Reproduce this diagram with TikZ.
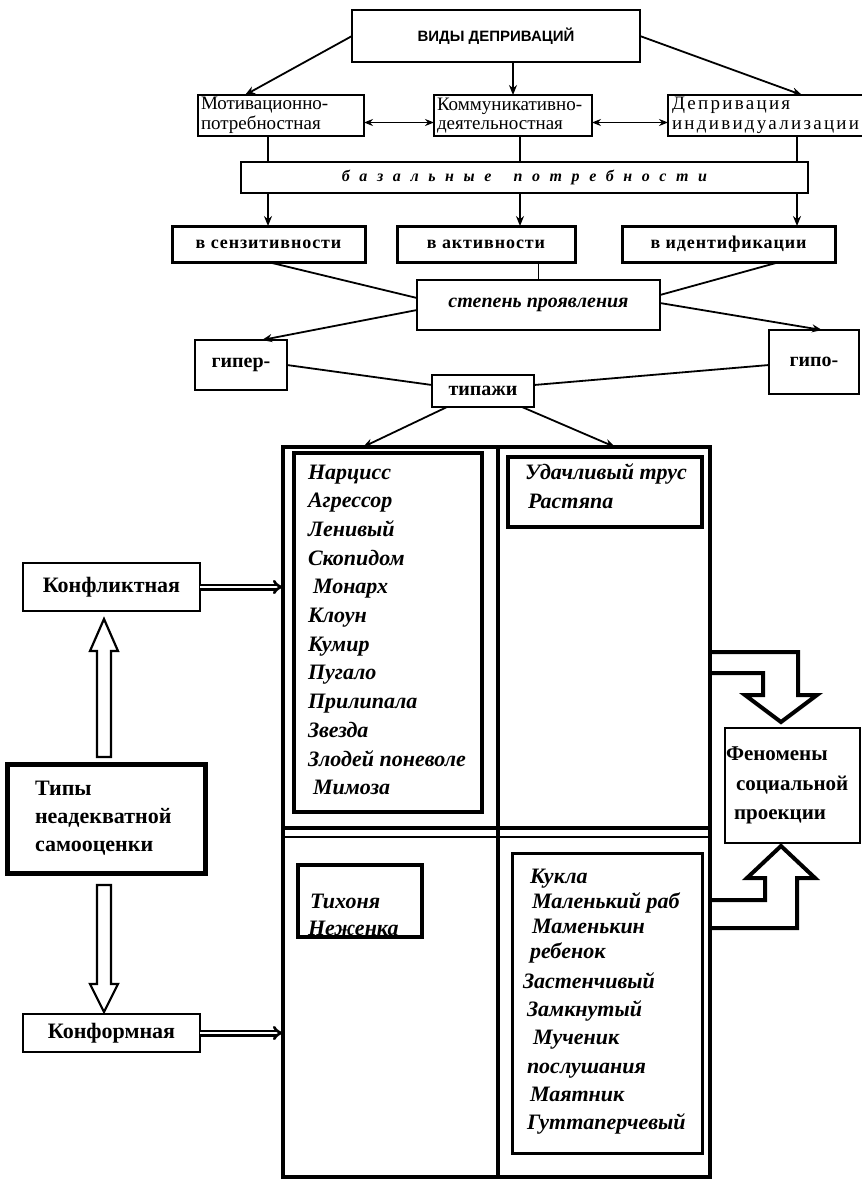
\documentclass[tikz,border=0pt]{standalone}
\usepackage{fontspec}
\setmainfont{Liberation Serif}
\newfontfamily\hsans{Liberation Sans}
\usetikzlibrary{arrows.meta,calc}
\newcommand\szTop{\hsans\bfseries\fontsize{15}{17}\selectfont}
\newcommand\szRow{\fontsize{19}{19.5}\selectfont}
\newcommand\szBas{\bfseries\itshape\fontsize{16}{18}\selectfont\addfontfeatures{LetterSpace=60}}
\newcommand\szNeed{\bfseries\fontsize{18}{18}\selectfont\addfontfeatures{LetterSpace=5}}
\newcommand\szDeg{\bfseries\itshape\fontsize{20}{22}\selectfont}
\newcommand\szSm{\bfseries\fontsize{20}{22}\selectfont}
\newcommand\szItem{\bfseries\itshape\fontsize{22}{22}\selectfont}
\newcommand\szSide{\bfseries\fontsize{22}{28}\selectfont}
\newcommand\szFen{\bfseries\fontsize{21}{29.5}\selectfont}
\begin{document}
\begin{tikzpicture}[x=1pt,y=-1pt,
  every node/.style={inner sep=0pt, outer sep=0pt},
  bx/.style={draw, line width=2pt, anchor=north west},
  ln/.style={line width=1.8pt},
  ar/.style={line width=1.8pt, -{Stealth[length=10pt,width=8pt]}},
  dar/.style={line width=1.8pt, {Stealth[length=9pt,width=7pt]}-{Stealth[length=9pt,width=7pt]}},
  itm/.style={anchor=base west, font=\szItem},
  hol/.style={draw, line width=2.2pt, fill=white, line join=miter},
  blkar/.style={draw, line width=4pt, line join=miter},
  imp/.style={double, double distance=1.8pt, line width=2.6pt, -{Implies}},
]
\useasboundingbox[fill=white] (0,0) rectangle (862,1179);

% ---------- top part ----------
\node[bx, line width=2.5pt, minimum width=288, minimum height=52, font=\szTop] (top) at (352,10) {ВИДЫ ДЕПРИВАЦИЙ};
\node[bx, minimum width=166, minimum height=41, text width=160, align=left, font=\szRow] (mot) at (198,95) {Мотивационно-\\потребностная};
\node[bx, minimum width=158, minimum height=41, text width=152, align=left, font=\szRow] (kom) at (434,95) {Коммуникативно-\\деятельностная};
\node[bx, minimum width=214, minimum height=41, text width=206, align=left, font={\szRow\addfontfeatures{LetterSpace=12}}] (dep) at (668,95) {Депривация\\индивидуализации};

\draw[ar] (top.west) -- ([xshift=-36]mot.north);
\draw[ar] (top.south -| kom.north) -- (kom.north);
\draw[ar] (top.east) -- ([xshift=27]dep.north);
\draw[dar] ([yshift=-7]mot.east) -- ([yshift=-7]kom.west);
\draw[dar] ([yshift=-7]kom.east) -- ([yshift=-7]dep.west);

\node[bx, minimum width=567, minimum height=31, font=\szBas] (bas) at (241,162) {базальные\hspace{22pt}потребности};

\coordinate (c1) at (268,0);
\coordinate (c2) at (520,0);
\coordinate (c3) at (797,0);
\draw[ln] (mot.south -| c1) -- (bas.north -| c1);
\draw[ln] (kom.south -| c2) -- (bas.north -| c2);
\draw[ln] (dep.south -| c3) -- (bas.north -| c3);

\node[bx, line width=3pt, minimum width=193, minimum height=36, font=\szNeed] (sen) at (172,226) {в сензитивности};
\node[bx, line width=3pt, minimum width=178, minimum height=36, font=\szNeed] (akt) at (397,226) {в активности};
\node[bx, line width=3pt, minimum width=213, minimum height=36, font=\szNeed] (ide) at (622,226) {в идентификации};

\draw[ar] (bas.south -| c1) -- (sen.north -| c1);
\draw[ar] (bas.south -| c2) -- (akt.north -| c2);
\draw[ar] (bas.south -| c3) -- (ide.north -| c3);

\node[bx, minimum width=243, minimum height=50, font=\szDeg] (stp) at (417,280) {степень проявления};

\draw[ln] (sen.south -| c1) -- ([yshift=7]stp.west);
\draw[ln] (stp.north |- akt.south) -- (stp.north);
\draw[ln] ([xshift=51]ide.south) -- ([yshift=10]stp.east);

\node[bx, line width=2.5pt, minimum width=92, minimum height=50, font=\szSm] (giper) at (195,340) {гипер-};
\node[bx, minimum width=90, minimum height=64, font=\szSm] (gipo) at (769,330) {гипо-};
\node[bx, line width=2.5pt, minimum width=102, minimum height=32, font=\szSm] (tip) at (432,375) {типажи};

\draw[ar] ([yshift=-5]stp.west) -- ([xshift=21]giper.north);
\draw[ar] ([yshift=2]stp.east) -- ([xshift=8]gipo.north);
\draw[ln] (giper.east) -- ([yshift=6]tip.west);
\draw[ln] ([yshift=-3]gipo.west) -- ([yshift=6]tip.east);

% ---------- grid ----------
\node[draw, line width=4pt, minimum width=427, minimum height=730, anchor=north west] (grid) at (283,447) {};
\coordinate (g1) at (363,447);
\coordinate (g2) at (615,447);
\draw[ar] ([xshift=-36]tip.south) -- (g1);
\draw[ar] ([xshift=39]tip.south) -- (g2);

\coordinate (dv) at (498,0);
\coordinate (dh1) at (0,828);
\coordinate (dh2) at (0,837);
\draw[line width=4pt] (grid.north -| dv) -- (grid.south -| dv);
\draw[line width=3.5pt] (grid.west |- dh1) -- (grid.east |- dh1);
\draw[line width=1.5pt] (grid.west |- dh2) -- (grid.east |- dh2);

% upper-left list
\foreach \t/\dx [count=\i from 0] in {Нарцисс/0, Агрессор/0, Ленивый/0, Скопидом/0, Монарх/5, Клоун/0, Кумир/0, Пугало/0, Прилипала/0, Звезда/0, Злодей поневоле/0, Мимоза/5}
  \node[itm] (u\i) at ({308+\dx},{479+28.7*\i}) {\t};
\node[bx, line width=3.5pt, minimum width=188, minimum height=359] (ul) at (294,453) {};

% upper-right list
\node[itm] (r1) at (525,479) {Удачливый трус};
\node[itm] (r2) at (528,508) {Растяпа};
\node[bx, line width=3.5pt, minimum width=194, minimum height=70] (ur) at (508,457) {};

% lower-left list
\node[itm] (t1) at (310,908) {Тихоня};
\node[itm] (t2) at (308,935) {Неженка};
\node[bx, line width=3.5pt, minimum width=124, minimum height=72] (ll) at (298,865) {};

% lower-right list
\foreach \t/\xx/\yy [count=\i] in {Кукла/530/883, Маленький раб/532/908, Маменькин/532/933, ребенок/530/958, Застенчивый/523/988, Замкнутый/527/1016, Мученик/533/1044, послушания/527/1073, Маятник/530/1101, Гуттаперчевый/527/1129}
  \node[itm] (w\i) at (\xx,\yy) {\t};
\node[bx, line width=3pt, minimum width=190, minimum height=300] (lr) at (512,853) {};

% ---------- right side ----------
\node[bx, minimum width=135, minimum height=115, text width=133, align=left, font=\szFen] (fen) at (725,728) {Феномены\\\hspace*{10pt}социальной\\\hspace*{8pt}проекции};
\coordinate (ba) at (781,0);
\coordinate (q1) at (0,652);
\coordinate (q2) at (0,673);
\coordinate (q3) at (0,900);
\coordinate (q4) at (0,928);
\draw[blkar] (grid.east |- q1) -- ($(fen.north -| ba)+(17,-76)$) -- ($(fen.north -| ba)+(17,-33)$) -- ($(fen.north -| ba)+(36,-33)$) -- ($(fen.north -| ba)+(0,-6)$) -- ($(fen.north -| ba)+(-36,-33)$) -- ($(fen.north -| ba)+(-18,-33)$) -- ($(fen.north -| ba)+(-18,-55)$) -- (grid.east |- q2);
\draw[blkar] (grid.east |- q4) -- ($(fen.south -| ba)+(16,85)$) -- ($(fen.south -| ba)+(16,35)$) -- ($(fen.south -| ba)+(34,35)$) -- ($(fen.south -| ba)+(0,3)$) -- ($(fen.south -| ba)+(-34,35)$) -- ($(fen.south -| ba)+(-16,35)$) -- ($(fen.south -| ba)+(-16,57)$) -- (grid.east |- q3);

% ---------- left side ----------
\node[bx, minimum width=177, minimum height=48, font=\szSide] (konf) at (23,563) {Конфликтная};
\node[bx, line width=5pt, minimum width=198, minimum height=109, text width=142, align=left, font=\szSide] (typy) at (7,764) {Типы\\неадекватной\\самооценки};
\node[bx, minimum width=177, minimum height=38, font=\szSide] (konfm) at (23,1014) {Конформная};

\coordinate (ax) at (104,0);
\path (typy.north -| ax) coordinate (ua0) (konf.south -| ax) coordinate (ua1);
\path (typy.south -| ax) coordinate (da0) (konfm.north -| ax) coordinate (da1);
\draw[hol] ($(ua0)+(-7,-7)$) -- ($(ua1)+(-7,40)$) -- ($(ua1)+(-14,40)$) -- ($(ua1)+(0,8)$) -- ($(ua1)+(14,40)$) -- ($(ua1)+(7,40)$) -- ($(ua0)+(7,-7)$) -- cycle;
\draw[hol] ($(da0)+(-7,12)$) -- ($(da1)+(-7,-30)$) -- ($(da1)+(-14,-30)$) -- ($(da1)+(0,-2)$) -- ($(da1)+(14,-30)$) -- ($(da1)+(7,-30)$) -- ($(da0)+(7,12)$) -- cycle;

\draw[imp] (konf.east) -- (grid.west |- konf.east);
\draw[imp] (konfm.east) -- (grid.west |- konfm.east);
\end{tikzpicture}
\end{document}
